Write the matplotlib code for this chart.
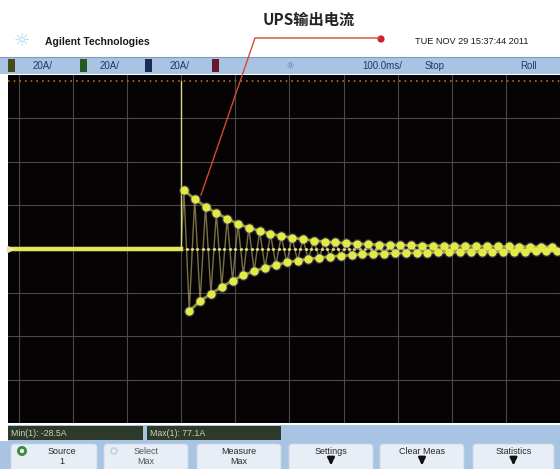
import numpy as np
import matplotlib
matplotlib.use("Agg")
import matplotlib.pyplot as plt
from matplotlib.patches import Rectangle, FancyBboxPatch, Circle

# --- scope data ---
t_event = 300            # ms, start of the transient
spike_max = 77.1         # A, Max(1)
min_meas = -28.5         # A, Min(1)
half_period = 10         # ms, 50 Hz
up_peaks = [27, 23, 19.5, 16.5, 14, 11.5, 9.8, 8.3, 7.0, 6.0, 5.2, 4.5, 3.9, 3.4,
            3.0, 2.7, 2.4, 2.2, 2.0, 1.9, 1.8, 1.7, 1.6, 1.5, 1.45, 1.4, 1.35, 1.3,
            1.25, 1.2, 1.15, 1.1, 1.1, 1.05, 1.0]
low_peaks = [-28.5, -24, -20.5, -17.5, -14.5, -12, -10.2, -8.6, -7.3, -6.2, -5.3,
             -4.6, -4.0, -3.5, -3.1, -2.8, -2.5, -2.3, -2.1, -1.95, -1.85, -1.75,
             -1.65, -1.55, -1.5, -1.45, -1.4, -1.35, -1.3, -1.25, -1.2, -1.15, -1.1,
             -1.05, -1.0]

title = "UPS输出电流"
brand = "Agilent Technologies"
date_txt = "TUE NOV 29 15:37:44 2011"
ch_scale = ["20A/", "20A/", "20A/"]
time_scale = "100.0ms/"
meas_txt = ["Min(1): -28.5A", "Max(1): 77.1A"]
keys = [("Source", "1"), ("Select", "Max"), ("Measure", "Max"),
        ("Settings", None), ("Clear Meas", None), ("Statistics", None)]

W, H = 560, 469
fig = plt.figure(figsize=(W / 100, H / 100), dpi=100)
fig.patch.set_facecolor("white")

# background panel in pixel coords
bg = fig.add_axes([0, 0, 1, 1])
bg.set_xlim(0, W)
bg.set_ylim(H, 0)
bg.axis("off")

sans = "Liberation Sans"
bar_blue = "#a9c3e2"

# status bar
bg.add_patch(Rectangle((0, 57), W, 17, color=bar_blue, lw=0))
bg.plot([0, W], [57, 57], color="#7f9cc0", lw=0.8)
for x0, fc in [(8, "#4a4a18"), (80, "#255a25"), (145, "#1b2a58"), (212, "#6a1828")]:
    bg.add_patch(Rectangle((x0, 59), 7, 13, color=fc, lw=0))
for x0, s in zip([33, 100, 170], ch_scale):
    bg.text(x0, 66, s, fontsize=7, family=sans, color="#233a5e", va="center")
bg.text(290, 66, "☼", fontsize=7, family="DejaVu Sans", color="#5a7aa0",
        va="center", ha="center")
bg.text(362, 66, time_scale, fontsize=7, family=sans, color="#233a5e", va="center")
bg.text(425, 66, "Stop", fontsize=7, family=sans, color="#233a5e", va="center")
bg.text(520, 66, "Roll", fontsize=7, family=sans, color="#233a5e", va="center")

# header
bg.text(22, 41, "☼", fontsize=13, family="DejaVu Sans", color="#9ed4ee",
        va="center", ha="center")
bg.text(45, 42, brand, fontsize=7.5, family=sans, weight="bold", color="#1a1a1a",
        va="center")
bg.text(415, 42, date_txt, fontsize=6.6, family=sans, color="#1a1a1a", va="center")
bg.text(263, 20, title, fontsize=11, family=["Noto Sans CJK SC", "DejaVu Sans"],
        weight="bold", color="#222222", va="center")

# measurement row
bg.add_patch(Rectangle((8, 425), W - 8, 16, color=bar_blue, lw=0))
bg.add_patch(Rectangle((8, 426), 135, 14, color="#2d3a2a", lw=0))
bg.add_patch(Rectangle((147, 426), 134, 14, color="#2d3a2a", lw=0))
bg.text(11, 433, meas_txt[0], fontsize=6.3, family=sans, color="#c8d4b8", va="center")
bg.text(150, 433, meas_txt[1], fontsize=6.3, family=sans, color="#c8d4b8", va="center")

# softkeys
bg.add_patch(Rectangle((0, 441), W, 28, color=bar_blue, lw=0))
key_x = [(11, 97), (104, 188), (197, 281), (289, 373), (380, 464), (473, 554)]
for (x0, x1), (l1, l2) in zip(key_x, keys):
    bg.add_patch(FancyBboxPatch((x0, 444), x1 - x0, 30, boxstyle="round,pad=0,rounding_size=3",
                                fc="#e8eef6", ec="#c9d6e6", lw=0.6))
    xc = (x0 + x1) / 2 + (8 if l1 == "Source" else 0)
    col = "#555555" if l1 == "Select" else "#2a2a2a"
    bg.text(xc, 451, l1, fontsize=6.5, family=sans, color=col, ha="center", va="center")
    if l2:
        bg.text(xc, 462, l2, fontsize=6.5, family=sans, color=col, ha="center", va="center")
    else:
        bg.annotate("", xy=(xc, 468), xytext=(xc, 457),
                    arrowprops=dict(arrowstyle="-|>", color="#111111", lw=1.8,
                                    mutation_scale=10))
bg.add_patch(Circle((22, 451), 3.6, fc="none", ec="#3c8a3c", lw=2))
bg.add_patch(Circle((114, 451), 3.0, fc="none", ec="#c8d0d8", lw=1.2))

# scope screen
ax = fig.add_axes([8 / W, (H - 423) / H, (W - 8) / W, (423 - 75) / H])
ax.set_facecolor("#050303")
ax.set_xlim(-20, 1000)
ax.set_ylim(-80, 80)
for t in range(0, 1001, 100):
    ax.axvline(t, color="#4a4848", lw=0.8, zorder=1)
for a in range(-60, 80, 20):
    ax.axhline(a, color="#4a4848", lw=0.8, zorder=1)
ax.set_xticks([])
ax.set_yticks([])
for sp in ax.spines.values():
    sp.set_visible(False)

# max cursor line
ax.axhline(spike_max, color="#b86a2a", lw=1.2, ls=(0, (1, 2.4)), zorder=2)

# flat part before the transient
ax.plot([-20, t_event], [0, 0], color="#7a5a96", lw=4.0, alpha=0.5, zorder=3)
ax.plot([-20, t_event], [0, 0], color="#e6e84a", lw=3.0, zorder=4)

# spike
ax.plot([t_event, t_event], [0, spike_max], color="#d6d690", lw=1.0, zorder=3)

# oscillation
t_up = t_event + half_period / 2 + 2 * half_period * np.arange(len(up_peaks))
t_low = t_up + half_period
zz_t = np.concatenate([[t_event], np.column_stack([t_up, t_low]).ravel()])
zz_v = np.concatenate([[0], np.column_stack([up_peaks, low_peaks]).ravel()])
ax.plot(zz_t, zz_v, color="#d4cc7c", lw=1.0, alpha=0.55, zorder=3)
t_zero = (zz_t[1:] + zz_t[:-1]) / 2
ax.plot(t_zero[1:], np.zeros(len(t_zero) - 1), ".", color="#e6e67a", ms=2.6,
        alpha=0.85, zorder=4)
for tt, vv in [(t_up, up_peaks), (t_low, low_peaks)]:
    ax.plot(tt, vv, "o", color="#6a58a0", ms=8.0, mew=0, alpha=0.4, zorder=4)
    ax.plot(tt, vv, "o", color="#e2ea48", ms=6.0, mew=0, zorder=5)
    ax.plot(tt, vv, color="#e2ea48", lw=2.0, alpha=0.6, zorder=5)

# channel ground marker
ax.plot([-17], [0], marker=">", color="#e8e8a0", ms=5, clip_on=False, zorder=6)

# annotation overlay
top = fig.add_axes([0, 0, 1, 1])
top.set_xlim(0, W)
top.set_ylim(H, 0)
top.patch.set_alpha(0)
top.axis("off")
top.plot([201, 255, 380], [195, 38, 38], color="#d24a34", lw=1.0)
top.add_patch(Circle((381, 39), 3.6, color="#d0202c", lw=0))

fig.savefig("out.png", dpi=100)
